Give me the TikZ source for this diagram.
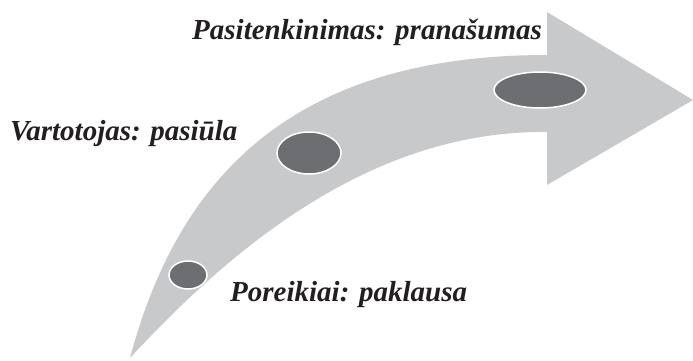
\documentclass[tikz,border=0pt]{standalone}
\usepackage{fontspec}
\setmainfont{Liberation Serif}
\usetikzlibrary{shapes.geometric}
\definecolor{arrowgray}{HTML}{C8C9CB}
\definecolor{dotgray}{HTML}{6D6E71}
\definecolor{txt}{HTML}{231F20}
\begin{document}
\begin{tikzpicture}[x=1pt,y=-1pt,
  dot/.style={ellipse, fill=dotgray, draw=white, line width=1.5pt, inner sep=0pt},
  lbl/.style={font=\fontsize{29}{33}\selectfont\bfseries\itshape, text=txt, inner sep=0pt, anchor=base west}]
\useasboundingbox (0,0) rectangle (693,361);
\fill[arrowgray] (130,358) .. controls (180,170) and (300,55) .. (547,55)
  -- (547,12) -- (693,100) -- (547,185) -- (547,132)
  .. controls (370,130) and (230,250) .. (130,358) -- cycle;
\node[dot, minimum width=38pt, minimum height=28pt] (d1) at (188,275) {};
\node[dot, minimum width=64pt, minimum height=42pt] (d2) at (309,153) {};
\node[dot, minimum width=92pt, minimum height=36pt] (d3) at (540,90) {};
\node[lbl] (t1) at (230,301) {Poreikiai: paklausa};
\node[lbl] (t2) at (10,140) {Vartotojas: pasiūla};
\node[lbl] (t3) at (192,40) {Pasitenkinimas: pranašumas};
\end{tikzpicture}
\end{document}
